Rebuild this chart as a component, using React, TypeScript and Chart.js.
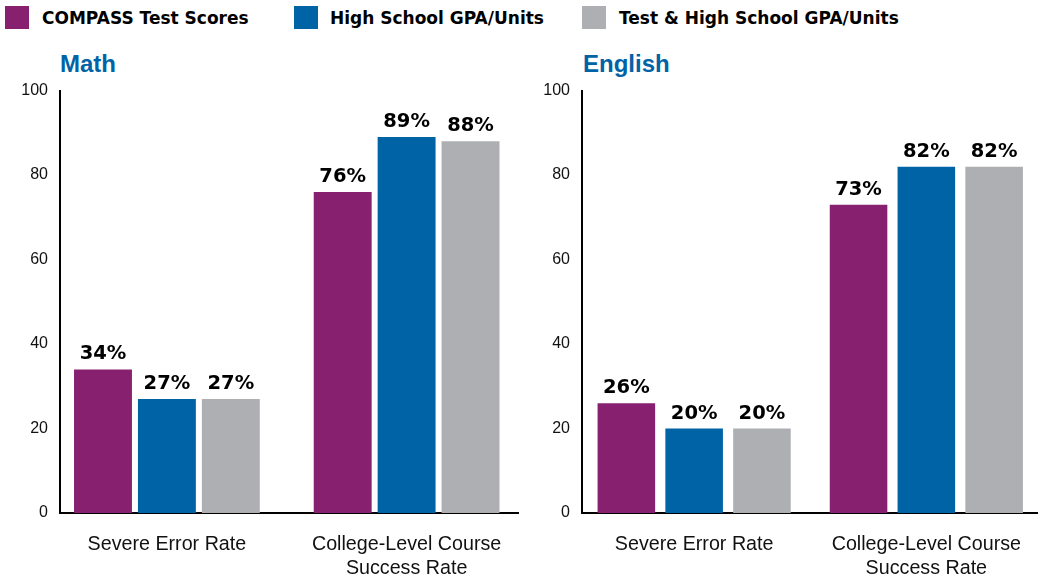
import React, { useEffect, useRef } from 'react';
import { Chart, registerables } from 'chart.js';
Chart.register(...registerables);

const seriesNames = ['COMPASS Test Scores', 'High School GPA/Units', 'Test & High School GPA/Units'];
const seriesColors = ['#86206F', '#0063A6', '#AEAFB3'];
const categories = [['Severe Error Rate'], ['College-Level Course', 'Success Rate']];
const yTicks = [0, 20, 40, 60, 80, 100];

const mathCompass = [34, 76];
const mathGpa = [27, 89];
const mathBoth = [27, 88];

const englishCompass = [26, 73];
const englishGpa = [20, 82];
const englishBoth = [20, 82];

const valueLabels = {
  id: 'valueLabels',
  afterDatasetsDraw(chart: any) {
    const ctx = chart.ctx;
    ctx.save();
    ctx.font = 'bold 19.5px "DejaVu Sans"';
    ctx.fillStyle = '#000';
    ctx.textAlign = 'center';
    ctx.textBaseline = 'alphabetic';
    chart.data.datasets.forEach((ds: any, i: number) => {
      chart.getDatasetMeta(i).data.forEach((el: any, j: number) => {
        ctx.fillText(ds.data[j].y + '%', el.x, el.y - 10);
      });
    });
    ctx.restore();
  },
};

function makeConfig(series: number[][], xMin: number, xMax: number, catPct: number, barPct: number, padRight: number): any {
  return {
    type: 'bar',
    data: {
      datasets: series.map((vals, i) => ({
        label: seriesNames[i],
        data: vals.map((v, k) => ({ x: k, y: v })),
        backgroundColor: seriesColors[i],
        borderWidth: 0,
        categoryPercentage: catPct,
        barPercentage: barPct,
      })),
    },
    options: {
      responsive: false,
      animation: false,
      layout: { padding: { top: 0, right: padRight, left: 0, bottom: 0 } },
      plugins: { legend: { display: false }, tooltip: { enabled: false } },
      scales: {
        x: {
          type: 'linear',
          min: xMin,
          max: xMax,
          offset: false,
          afterBuildTicks: (s: any) => {
            s.ticks = categories.map((_, i) => ({ value: i }));
          },
          ticks: {
            callback: (v: number) => categories[v],
            maxRotation: 0,
            autoSkip: false,
            font: { family: '"Liberation Sans"', size: 19.7, lineHeight: 1.22 },
            color: '#111',
            padding: 20,
          },
          grid: { display: false, drawTicks: false, offset: false },
          border: { display: true, color: '#000', width: 2 },
          afterFit: (s: any) => {
            s.height = 68;
          },
        },
        y: {
          min: 0,
          max: 100,
          afterBuildTicks: (s: any) => {
            s.ticks = yTicks.map((v) => ({ value: v }));
          },
          ticks: {
            font: { family: '"Liberation Sans"', size: 16 },
            color: '#111',
            padding: 12,
          },
          grid: { display: false, drawTicks: false },
          border: { display: true, color: '#000', width: 2 },
          afterFit: (s: any) => {
            s.width = 60;
          },
        },
      },
    },
    plugins: [valueLabels],
  };
}

function BarPanel(props: { config: any; left: number; width: number }) {
  const ref = useRef<HTMLCanvasElement>(null);
  useEffect(() => {
    const chart = new Chart(ref.current as HTMLCanvasElement, props.config);
    return () => chart.destroy();
  }, []);
  return (
    <canvas
      ref={ref}
      width={props.width}
      height={512}
      style={{ position: 'absolute', left: props.left, top: 69, width: props.width, height: 512 }}
    />
  );
}

const legendPos = [
  { box: 5, text: 42 },
  { box: 294, text: 330 },
  { box: 582, text: 619 },
];

export default function App() {
  const mathConfig = makeConfig([mathCompass, mathGpa, mathBoth], -0.446, 1.467, 0.8, 0.906, 3);
  const englishConfig = makeConfig([englishCompass, englishGpa, englishBoth], -0.483, 1.479, 0.876, 0.849, 0);
  return (
    <div style={{ position: 'fixed', left: 0, top: 0, width: 1041, height: 581, background: '#fff', overflow: 'hidden' }}>
      {seriesNames.map((name, i) => (
        <React.Fragment key={name}>
          <div style={{ position: 'absolute', left: legendPos[i].box, top: 6, width: 24, height: 23, background: seriesColors[i] }} />
          <div
            style={{
              position: 'absolute',
              left: legendPos[i].text,
              top: 6,
              height: 24,
              lineHeight: '24px',
              fontFamily: '"DejaVu Sans"',
              fontWeight: 'bold',
              fontSize: 17,
              color: '#000',
              whiteSpace: 'nowrap',
            }}
          >
            {name}
          </div>
        </React.Fragment>
      ))}
      <div style={{ position: 'absolute', left: 60, top: 52, lineHeight: '24px', fontFamily: '"Liberation Sans"', fontWeight: 'bold', fontSize: 24, color: '#0063A6' }}>
        Math
      </div>
      <div style={{ position: 'absolute', left: 583, top: 52, lineHeight: '24px', fontFamily: '"Liberation Sans"', fontWeight: 'bold', fontSize: 24, color: '#0063A6' }}>
        English
      </div>
      <BarPanel config={mathConfig} left={0} width={522} />
      <BarPanel config={englishConfig} left={522} width={519} />
    </div>
  );
}
